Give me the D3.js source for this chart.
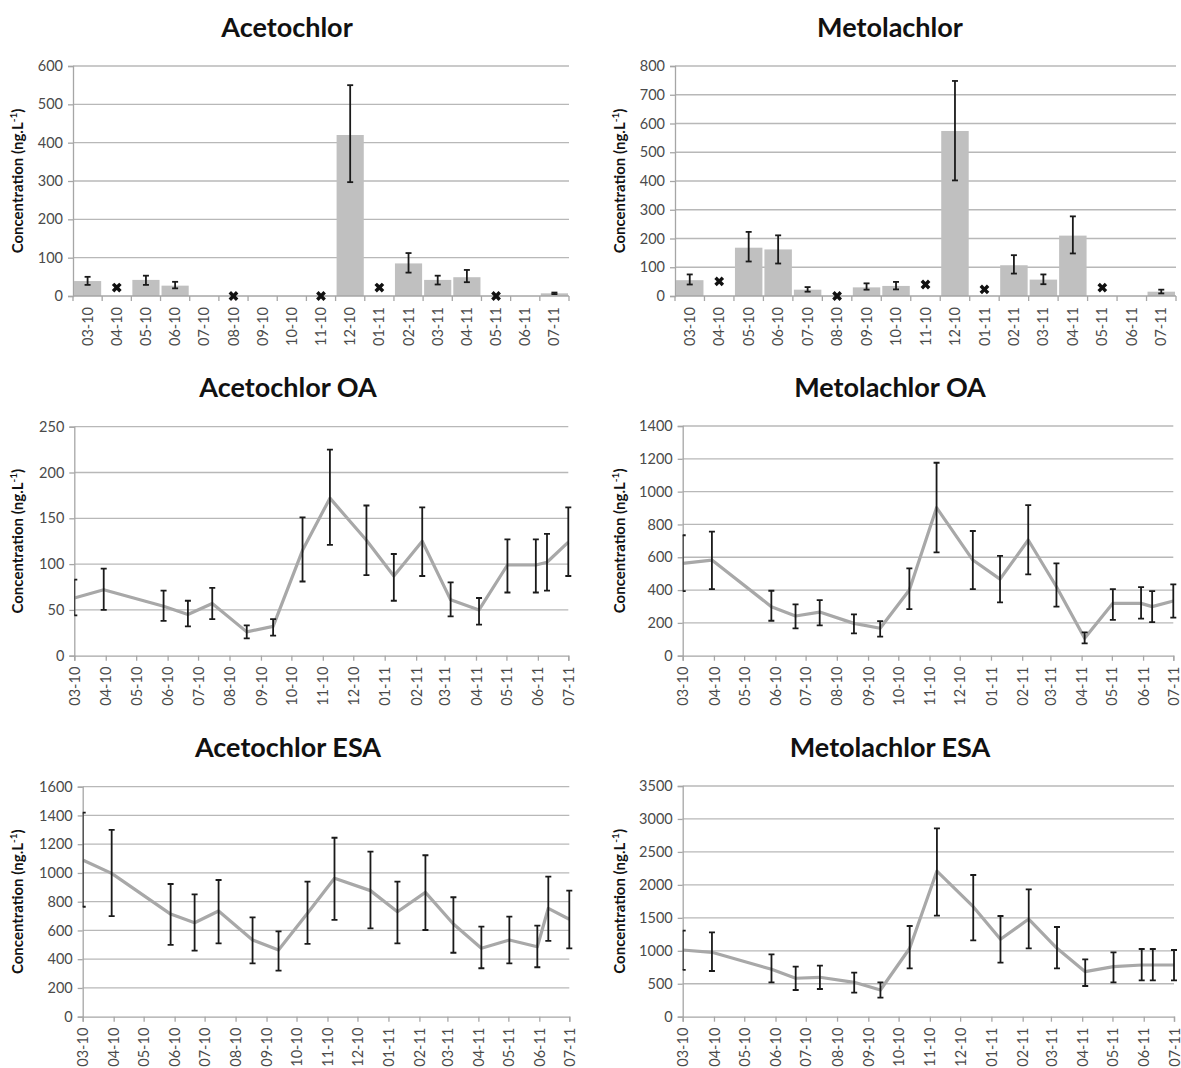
<!DOCTYPE html>
<html>
<head>
<meta charset="utf-8">
<script src="https://cdn.jsdelivr.net/npm/d3@7"></script>
<style>
body { margin: 0; background: #fff; }
svg text { font-family: Lato, "Open Sans", sans-serif; }
</style>
</head>
<body>
<svg id="chart" width="1181" height="1068"></svg>
<script>
// monthly categories (bar charts)
var months = ["03-10", "04-10", "05-10", "06-10", "07-10", "08-10", "09-10", "10-10", "11-10",
    "12-10", "01-11", "02-11", "03-11", "04-11", "05-11", "06-11", "07-11"];

// Acetochlor (bars, null = no bar)
var acetoVal = [39, null, 42, 27, null, null, null, null, null, 420, null, 85, 42, 49, null, null, 7];
var acetoLo = [29, null, 29, 20, null, null, null, null, null, 297, null, 61, 30, 36, null, null, 5];
var acetoHi = [50, null, 53, 37, null, null, null, null, null, 550, null, 112, 53, 68, null, null, 9];
var acetoMark = [null, 22, null, null, null, 0, null, null, 0, null, 22, null, null, null, 0, null, null];

// Metolachlor (bars)
var metoVal = [55, null, 168, 162, 22, null, 30, 35, null, 574, null, 107, 57, 210, null, null, 15];
var metoLo = [40, null, 120, 113, 15, null, 22, 23, null, 402, null, 78, 41, 148, null, null, 9];
var metoHi = [75, null, 223, 211, 31, null, 44, 49, null, 748, null, 142, 75, 277, null, null, 22];
var metoMark = [null, 51, null, null, null, 0, null, null, 40, null, 23, null, null, null, 29, null, null];

// sampling dates (line charts)
var sampleDates = ["2010-03-01", "2010-03-30", "2010-05-28", "2010-06-21", "2010-07-15", "2010-08-18",
    "2010-09-13", "2010-10-12", "2010-11-08", "2010-12-14", "2011-01-10", "2011-02-07", "2011-03-07",
    "2011-04-04", "2011-05-02", "2011-05-30", "2011-06-10", "2011-07-01"];

var acetoOA = [63, 72, 54, 45, 57, 26, 32, 115, 172, 126, 87, 125, 61, 50, 99, 99, 102, 124];
var acetoOALo = [44, 50, 38, 32, 40, 19, 22, 81, 121, 88, 60, 87, 43, 34, 69, 69, 71, 87];
var acetoOAHi = [83, 95, 71, 60, 74, 33, 40, 151, 225, 164, 111, 162, 80, 63, 127, 127, 133, 162];

var metoOA = [563, 583, 299, 242, 266, 197, 167, 400, 902, 583, 467, 705, 420, 106, 319, 319, 299, 333];
var metoOALo = [394, 406, 213, 167, 185, 136, 116, 284, 630, 406, 325, 496, 299, 75, 218, 226, 205, 232];
var metoOAHi = [734, 756, 396, 313, 339, 252, 211, 532, 1176, 760, 608, 918, 563, 142, 406, 418, 394, 435];

var acetoESA = [1090, 997, 714, 654, 735, 534, 464, 719, 963, 877, 730, 865, 645, 476, 534, 487, 754, 678];
var acetoESALo = [765, 700, 499, 459, 510, 371, 320, 506, 673, 615, 510, 603, 445, 337, 371, 344, 527, 476];
var acetoESAHi = [1419, 1299, 923, 851, 951, 691, 594, 939, 1245, 1148, 939, 1123, 831, 626, 696, 633, 974, 877];

var metoESA = [1012, 977, 719, 583, 598, 522, 405, 1038, 2210, 1669, 1174, 1482, 1038, 683, 759, 784, 784, 784];
var metoESALo = [709, 693, 522, 405, 420, 364, 288, 734, 1532, 1159, 819, 1038, 734, 466, 522, 552, 552, 552];
var metoESAHi = [1305, 1280, 947, 759, 774, 668, 522, 1376, 2858, 2150, 1528, 1933, 1361, 871, 977, 1027, 1027, 1012];

var parseDate = d3.timeParse("%Y-%m-%d");

function Panel(id, opts) {
    var self = this;
    self.svg = d3.select(`#${id}`);
    self.opts = opts;
    self.g = self.svg.append("g");
    self.y = d3.scaleLinear().domain([0, opts.yMax]).range([opts.y0, opts.y1]);
    self.drawFrame();
}

Panel.prototype.drawFrame = function () {
    var self = this, o = self.opts, g = self.g;
    var ticks = d3.range(0, o.yMax + 1, o.yStep);

    // gridlines
    g.selectAll(".grid").data(ticks.slice(1)).enter().append("line")
        .attr("x1", o.x0).attr("x2", o.x1)
        .attr("y1", function (d) { return self.y(d) }).attr("y2", function (d) { return self.y(d) })
        .attr("stroke", "#b8b8b8").attr("stroke-width", 1.3);

    var ax = g.append("g").attr("transform", `translate(${o.x0},0)`)
        .call(d3.axisLeft(self.y).tickValues(ticks).tickFormat(d3.format("d")).tickSize(5).tickPadding(5));
    ax.select(".domain").attr("stroke", "#a6a6a6").attr("stroke-width", 1.3);
    ax.selectAll(".tick line").attr("stroke", "#a6a6a6").attr("stroke-width", 1.3);
    ax.selectAll("text").attr("fill", "#4a4a4a").style("font-size", "14.5px");

    // title
    self.svg.append("text").attr("x", o.tx).attr("y", o.ty)
        .attr("text-anchor", "middle").style("font-size", "27px").style("font-weight", "bold")
        .attr("fill", "#111").text(o.title);

    // y label
    var lab = self.svg.append("text")
        .attr("transform", `translate(${o.lx},${(o.y0 + o.y1) / 2}) rotate(-90)`)
        .attr("text-anchor", "middle").style("font-size", "15px").style("font-weight", "bold")
        .attr("fill", "#111");
    lab.append("tspan").text("Concentration (ng.L");
    lab.append("tspan").attr("dy", -6).style("font-size", "10px").text("-1");
    lab.append("tspan").attr("dy", 6).text(")");
}

Panel.prototype.errorBars = function (data, xf) {
    var self = this, g = self.g;
    var eb = g.selectAll(".err").data(data.filter(function (d) { return d.lo != null })).enter().append("g");
    eb.append("line")
        .attr("x1", xf).attr("x2", xf)
        .attr("y1", function (d) { return self.y(d.lo) }).attr("y2", function (d) { return self.y(d.hi) });
    eb.append("line")
        .attr("x1", function (d) { return xf(d) - 3 }).attr("x2", function (d) { return xf(d) + 3 })
        .attr("y1", function (d) { return self.y(d.hi) }).attr("y2", function (d) { return self.y(d.hi) });
    eb.append("line")
        .attr("x1", function (d) { return xf(d) - 3 }).attr("x2", function (d) { return xf(d) + 3 })
        .attr("y1", function (d) { return self.y(d.lo) }).attr("y2", function (d) { return self.y(d.lo) });
    eb.selectAll("line").attr("stroke", "#1a1a1a").attr("stroke-width", 1.8);
    return eb;
}

Panel.prototype.bars = function (vals, lo, hi, marks) {
    var self = this, o = self.opts, g = self.g;
    var x = d3.scaleBand().domain(months).range([o.x0, o.x1]);
    var data = months.map(function (m, i) {
        return { m: m, v: vals[i], lo: lo[i], hi: hi[i], mk: marks[i] };
    });

    g.selectAll(".bar").data(data.filter(function (d) { return d.v != null })).enter().append("rect")
        .attr("x", function (d) { return x(d.m) + 1 })
        .attr("width", x.bandwidth() - 2)
        .attr("y", function (d) { return self.y(d.v) })
        .attr("height", function (d) { return self.y(0) - self.y(d.v) })
        .attr("fill", "#c0c0c0");

    var cx = function (d) { return x(d.m) + x.bandwidth() / 2 };
    self.errorBars(data, cx);

    // category axis
    var xa = g.append("g").attr("transform", `translate(0,${o.y0})`)
        .call(d3.axisBottom(x).tickSize(0).tickPadding(0));
    xa.select(".domain").remove();
    xa.selectAll("text").attr("transform", "rotate(-90)").attr("x", -11).attr("y", 0).attr("dy", "0.35em")
        .style("text-anchor", "end").style("font-size", "14.5px").attr("fill", "#4a4a4a");
    var bounds = months.map(function (m) { return x(m) }).concat([o.x1]);
    g.selectAll(".bt").data(bounds).enter().append("line")
        .attr("x1", function (d) { return d }).attr("x2", function (d) { return d })
        .attr("y1", o.y0).attr("y2", o.y0 + 5).attr("stroke", "#a6a6a6").attr("stroke-width", 1.3);
    g.append("line").attr("x1", o.x0).attr("x2", o.x1).attr("y1", o.y0).attr("y2", o.y0)
        .attr("stroke", "#a6a6a6").attr("stroke-width", 1.3);

    // "x" markers for samples without a bar
    g.selectAll(".mk").data(data.filter(function (d) { return d.mk != null })).enter().append("path")
        .attr("d", d3.symbol().type(d3.symbolCross).size(60))
        .attr("transform", function (d) { return `translate(${cx(d)},${self.y(d.mk)}) rotate(45)` })
        .attr("fill", "#111");
}

Panel.prototype.line = function (vals, lo, hi) {
    var self = this, o = self.opts, g = self.g;
    var x = d3.scaleTime().domain([new Date(2010, 2, 1), new Date(2011, 6, 1)]).range([o.x0, o.x1]);
    var data = sampleDates.map(function (s, i) {
        return { d: parseDate(s), v: vals[i], lo: lo[i], hi: hi[i] };
    });

    var xa = g.append("g").attr("transform", `translate(0,${o.y0})`)
        .call(d3.axisBottom(x).ticks(d3.timeMonth.every(1)).tickFormat(d3.timeFormat("%m-%y")).tickSize(5).tickPadding(0));
    xa.select(".domain").attr("stroke", "#a6a6a6").attr("stroke-width", 1.3);
    xa.selectAll(".tick line").attr("stroke", "#a6a6a6").attr("stroke-width", 1.3);
    xa.selectAll("text").attr("transform", "rotate(-90)").attr("x", -11).attr("y", 0).attr("dy", "0.35em")
        .style("text-anchor", "end").style("font-size", "14.5px").attr("fill", "#4a4a4a");

    var clipId = "clip" + Math.round(o.x0) + "_" + Math.round(o.y0);
    self.svg.append("clipPath").attr("id", clipId).append("rect")
        .attr("x", o.x0).attr("y", o.y1 - 10).attr("width", o.x1 - o.x0 + 10).attr("height", o.y0 - o.y1 + 20);
    var pg = g.append("g").attr("clip-path", `url(#${clipId})`);

    pg.append("path").datum(data)
        .attr("d", d3.line().x(function (d) { return x(d.d) }).y(function (d) { return self.y(d.v) }))
        .attr("fill", "none").attr("stroke", "#a8a8a8").attr("stroke-width", 3.2).attr("stroke-linejoin", "round");

    var gSave = self.g;
    self.g = pg;
    self.errorBars(data, function (d) { return x(d.d) });
    self.g = gSave;
}

new Panel("chart", { title: "Acetochlor", tx: 287, ty: 37, lx: 23, x0: 73, x1: 569, y0: 296, y1: 66, yMax: 600, yStep: 100 })
    .bars(acetoVal, acetoLo, acetoHi, acetoMark);
new Panel("chart", { title: "Metolachlor", tx: 890, ty: 37, lx: 625, x0: 675, x1: 1176, y0: 296, y1: 66, yMax: 800, yStep: 100 })
    .bars(metoVal, metoLo, metoHi, metoMark);
new Panel("chart", { title: "Acetochlor OA", tx: 288, ty: 397, lx: 23, x0: 74.3, x1: 568.3, y0: 655.7, y1: 426.7, yMax: 250, yStep: 50 })
    .line(acetoOA, acetoOALo, acetoOAHi);
new Panel("chart", { title: "Metolachlor OA", tx: 890, ty: 397, lx: 625, x0: 682.7, x1: 1173.3, y0: 655.7, y1: 426, yMax: 1400, yStep: 200 })
    .line(metoOA, metoOALo, metoOAHi);
new Panel("chart", { title: "Acetochlor ESA", tx: 288, ty: 757, lx: 23, x0: 82.7, x1: 569.3, y0: 1016.7, y1: 786.7, yMax: 1600, yStep: 200 })
    .line(acetoESA, acetoESALo, acetoESAHi);
new Panel("chart", { title: "Metolachlor ESA", tx: 890, ty: 757, lx: 625, x0: 682.7, x1: 1174, y0: 1016.7, y1: 786, yMax: 3500, yStep: 500 })
    .line(metoESA, metoESALo, metoESAHi);
</script>
</body>
</html>
